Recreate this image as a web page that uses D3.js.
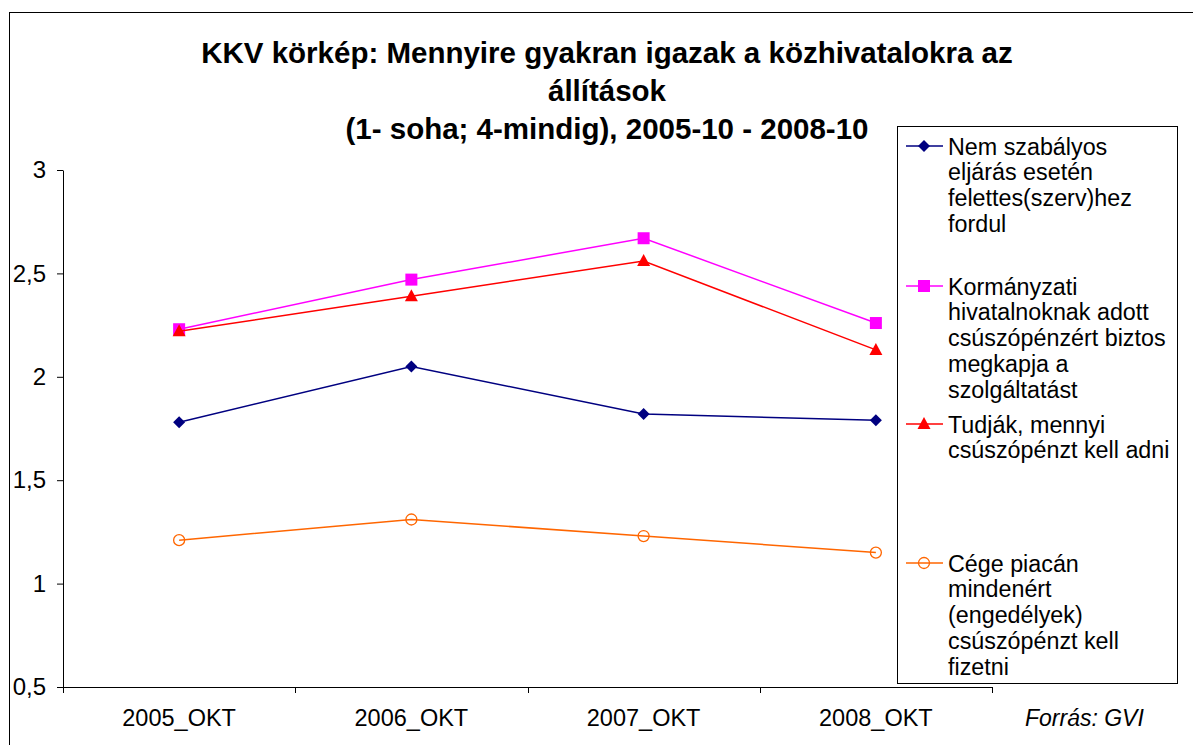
<!DOCTYPE html>
<html>
<head>
<meta charset="utf-8">
<script src="https://cdn.jsdelivr.net/npm/d3@7"></script>
<style>
  body { margin: 0; background: #fff; }
  svg { font-family: "Liberation Sans", Arial, sans-serif; }
</style>
</head>
<body>
<div id="chart"></div>
<script>
/* Chart data */
var categories = ["2005_OKT", "2006_OKT", "2007_OKT", "2008_OKT"];
var seriesNames = [
    ["Nem szabályos", "eljárás esetén", "felettes(szerv)hez", "fordul"],
    ["Kormányzati", "hivatalnoknak adott", "csúszópénzért biztos", "megkapja a", "szolgáltatást"],
    ["Tudják, mennyi", "csúszópénzt kell adni"],
    ["Cége piacán", "mindenért", "(engedélyek)", "csúszópénzt kell", "fizetni"]
];
var nemSzabalyos = [1.78, 2.05, 1.82, 1.79];
var kormanyzati = [2.23, 2.47, 2.67, 2.26];
var tudjak = [2.22, 2.39, 2.56, 2.13];
var cegePiacan = [1.21, 1.31, 1.23, 1.15];
var yTicks = [0.5, 1, 1.5, 2, 2.5, 3];
var titleLines = ["KKV körkép: Mennyire gyakran igazak a közhivatalokra az", "állítások", "(1- soha; 4-mindig), 2005-10 - 2008-10"];
var sourceNote = "Forrás: GVI";

var allSeries = [nemSzabalyos, kormanyzati, tudjak, cegePiacan];
var colors = ["#000080", "#FF00FF", "#FF0000", "#FF6600"];
var symbols = ["diamond", "square", "triangle", "circle"];

var width = 1193, height = 745;
var plot = { left: 63, right: 992, top: 170, bottom: 687 };

var svg = d3.select("#chart").append("svg")
    .attr("width", width)
    .attr("height", height);

// outer frame (runs off the right/bottom edge like the original)
svg.append("rect")
    .attr("x", 9.5).attr("y", 12.5)
    .attr("width", 1300).attr("height", 900)
    .attr("fill", "none").attr("stroke", "#000").attr("stroke-width", 1);

/* Title */
svg.append("g").selectAll("text")
    .data(titleLines)
    .enter().append("text")
    .attr("x", 607)
    .attr("y", function(d, i) { return 63 + i * 38; })
    .attr("text-anchor", "middle")
    .attr("font-weight", "bold")
    .attr("font-size", "29.5px")
    .text(function(d) { return d; });

/* Scales */
var x = d3.scaleBand()
    .domain(categories)
    .range([plot.left, plot.right]);

var y = d3.scaleLinear()
    .domain([0.5, 3])
    .range([plot.bottom, plot.top]);

var fmt = function(d) { return String(d).replace(".", ","); };

// y axis
var yAxis = svg.append("g")
    .attr("transform", "translate(" + plot.left + ",0)")
    .call(d3.axisLeft(y).tickValues(yTicks).tickFormat(fmt).tickSize(6).tickSizeOuter(0).tickPadding(11));
yAxis.selectAll("text").attr("font-size", "24px").attr("fill", "#000").attr("font-family", "Liberation Sans, Arial, sans-serif");
yAxis.select(".domain").attr("stroke", "#000");

// x axis
var xAxis = svg.append("g")
    .attr("transform", "translate(0," + plot.bottom + ")")
    .call(d3.axisBottom(x).tickSize(0).tickPadding(0));
xAxis.select(".domain").attr("d", "M" + plot.left + ",0.5H" + plot.right).attr("stroke", "#000");
xAxis.selectAll("text")
    .attr("font-size", "23.5px").attr("fill", "#000")
    .attr("font-family", "Liberation Sans, Arial, sans-serif")
    .attr("dy", "39px");
// tick marks between categories
var boundaries = categories.map(function(c) { return x(c); }).concat([plot.right]);
xAxis.selectAll(".sep")
    .data(boundaries)
    .enter().append("line")
    .attr("class", "sep")
    .attr("x1", function(d) { return Math.round(d) + 0.5; })
    .attr("x2", function(d) { return Math.round(d) + 0.5; })
    .attr("y1", 0).attr("y2", 6)
    .attr("stroke", "#000");

/* Markers */
function drawMarker(g, type, color, cx, cy) {
    if (type === "diamond") {
        g.append("path")
            .attr("d", "M" + cx + "," + (cy - 6) + "L" + (cx + 6) + "," + cy + "L" + cx + "," + (cy + 6) + "L" + (cx - 6) + "," + cy + "Z")
            .attr("fill", color);
    } else if (type === "square") {
        g.append("rect")
            .attr("x", cx - 6).attr("y", cy - 6)
            .attr("width", 12).attr("height", 12)
            .attr("fill", color);
    } else if (type === "triangle") {
        g.append("path")
            .attr("d", "M" + cx + "," + (cy - 7) + "L" + (cx + 6.5) + "," + (cy + 5) + "L" + (cx - 6.5) + "," + (cy + 5) + "Z")
            .attr("fill", color);
    } else {
        g.append("circle")
            .attr("cx", cx).attr("cy", cy).attr("r", 5.5)
            .attr("fill", "none").attr("stroke", color).attr("stroke-width", 1.3);
    }
}

var line = d3.line()
    .x(function(d, i) { return x(categories[i]) + x.bandwidth() / 2; })
    .y(function(d) { return y(d); });

allSeries.forEach(function(vals, s) {
    var g = svg.append("g");
    g.append("path")
        .datum(vals)
        .attr("d", line)
        .attr("fill", "none")
        .attr("stroke", colors[s])
        .attr("stroke-width", 1.5);
    vals.forEach(function(v, i) {
        drawMarker(g, symbols[s], colors[s], x(categories[i]) + x.bandwidth() / 2, y(v));
    });
});

/* Legend */
var legendBox = { x: 897, y: 126, w: 280, h: 557 };
var legend = svg.append("g");
legend.append("rect")
    .attr("x", legendBox.x + 0.5).attr("y", legendBox.y + 0.5)
    .attr("width", legendBox.w).attr("height", legendBox.h)
    .attr("fill", "#fff").attr("stroke", "#000");

var entryY = [146, 286, 424, 563];
seriesNames.forEach(function(lines, s) {
    var ey = entryY[s];
    legend.append("line")
        .attr("x1", 906).attr("x2", 943)
        .attr("y1", ey).attr("y2", ey)
        .attr("stroke", colors[s]).attr("stroke-width", 1.5);
    drawMarker(legend, symbols[s], colors[s], 924, ey);
    legend.append("g").selectAll("text")
        .data(lines)
        .enter().append("text")
        .attr("x", 948)
        .attr("y", function(d, i) { return ey + 8.5 + i * 25.9; })
        .attr("font-size", "23.3px")
        .text(function(d) { return d; });
});

/* Source */
svg.append("text")
    .attr("x", 1025).attr("y", 726)
    .attr("font-size", "23px")
    .attr("font-style", "italic")
    .text(sourceNote);
</script>
</body>
</html>
